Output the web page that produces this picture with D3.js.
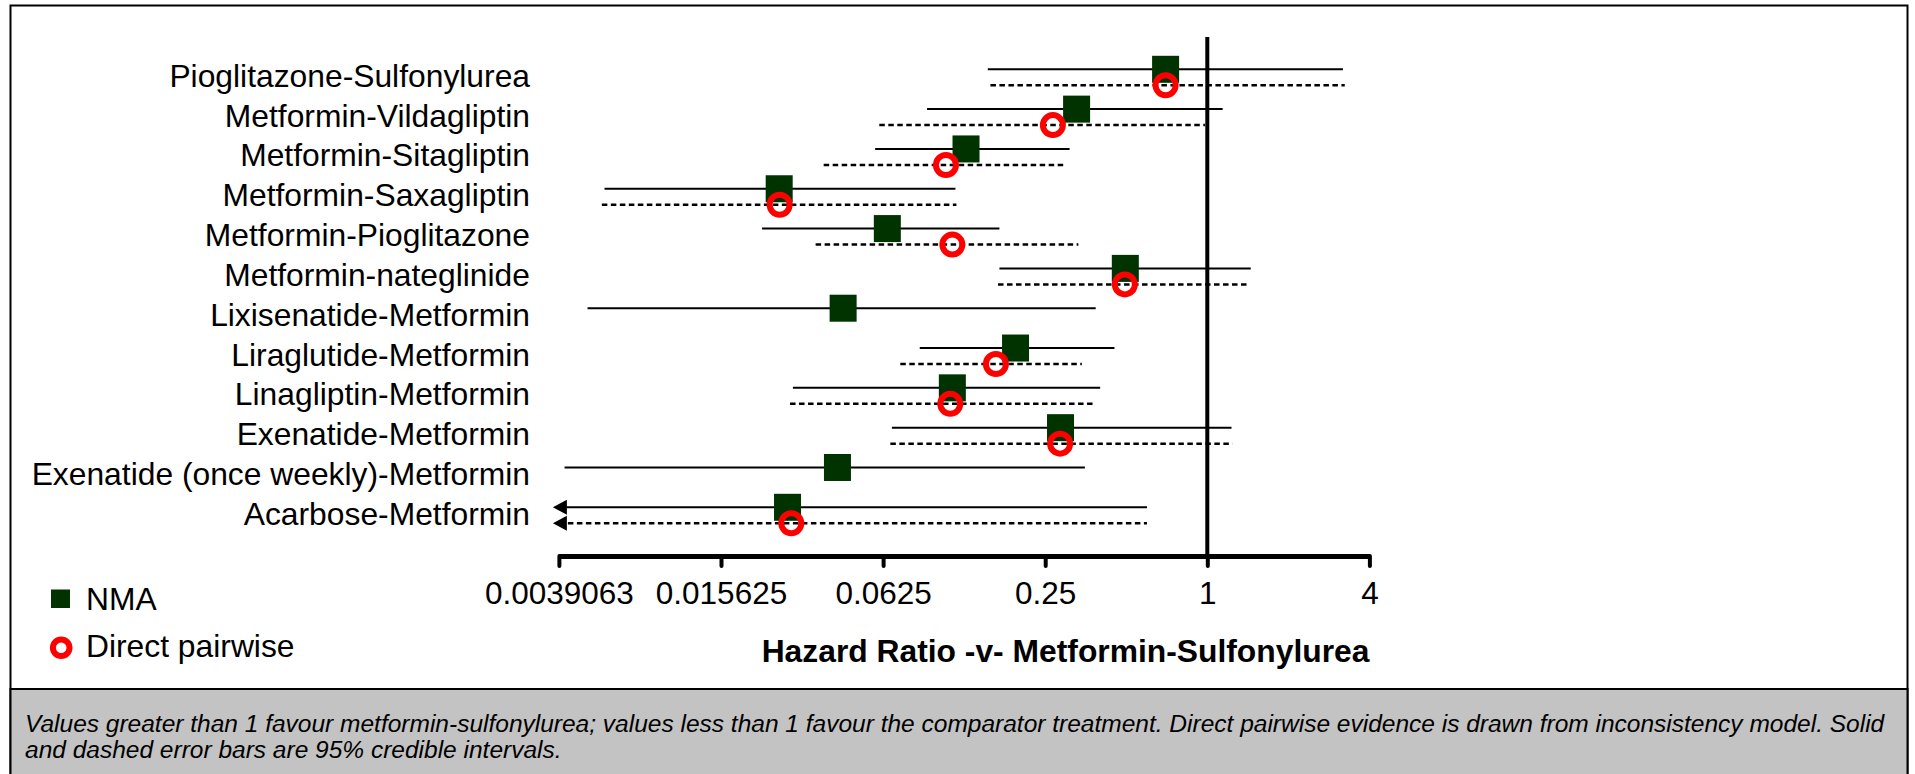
<!DOCTYPE html>
<html>
<head>
<meta charset="utf-8">
<script src="https://cdn.jsdelivr.net/npm/d3@7"></script>
<style>
  body { margin: 0; background: #fff; }
  svg { display: block; font-family: "Liberation Sans", Arial, sans-serif; }
</style>
</head>
<body>
<div id="ForestPlot"></div>
<script>
// comparisons, top to bottom
let categories = [
    "Pioglitazone-Sulfonylurea",
    "Metformin-Vildagliptin",
    "Metformin-Sitagliptin",
    "Metformin-Saxagliptin",
    "Metformin-Pioglitazone",
    "Metformin-nateglinide",
    "Lixisenatide-Metformin",
    "Liraglutide-Metformin",
    "Linagliptin-Metformin",
    "Exenatide-Metformin",
    "Exenatide (once weekly)-Metformin",
    "Acarbose-Metformin"
]

// NMA hazard ratios and 95% CrI (solid bars)
let nmaHR   = [0.70, 0.327, 0.127, 0.0257, 0.0648, 0.496, 0.0444, 0.194, 0.113, 0.285, 0.0423, 0.0276]
let nmaLow  = [0.153, 0.091, 0.0584, 0.00577, 0.0222, 0.169, 0.00499, 0.0855, 0.0289, 0.0674, 0.0041, 0.0031]
let nmaHigh = [3.19, 1.14, 0.308, 0.116, 0.169, 1.45, 0.385, 0.452, 0.400, 1.23, 0.351, 0.597]

// direct pairwise (dashed bars), null = no direct evidence
let directHR   = [0.70, 0.267, 0.107, 0.0258, 0.113, 0.494, null, 0.164, 0.111, 0.284, null, 0.0285]
let directLow  = [0.1565, 0.0605, 0.0376, 0.00564, 0.0351, 0.167, null, 0.0724, 0.0282, 0.0665, null, 0.0031]
let directHigh = [3.24, 0.98, 0.299, 0.117, 0.332, 1.43, null, 0.342, 0.383, 1.24, null, 0.597]

let tickValues = [0.00390625, 0.015625, 0.0625, 0.25, 1, 4]
let tickLabels = ["0.0039063", "0.015625", "0.0625", "0.25", "1", "4"]

let axisTitle = "Hazard Ratio -v- Metformin-Sulfonylurea"
let legendLabels = ["NMA", "Direct pairwise"]
let footnote = [
    "Values greater than 1 favour metformin-sulfonylurea; values less than 1 favour the comparator treatment. Direct pairwise evidence is drawn from inconsistency model. Solid",
    "and dashed error bars are 95% credible intervals."
]

let width = 1915
let height = 774
let axisY = 556
let dashOffset = 16
let green = '#003300'
let red = '#ff0000'
let fontSize = '31.8px'

let svg = d3.select('#ForestPlot').append('svg')
    .attr('width', width).attr('height', height)

// outer frame + grey footnote panel
svg.append('rect')
    .attr('x', 10.5).attr('y', 5.5)
    .attr('width', 1897).attr('height', 800)
    .attr('fill', '#fff').attr('stroke', '#000').attr('stroke-width', 2)
svg.append('rect')
    .attr('x', 10.5).attr('y', 689)
    .attr('width', 1897).attr('height', 120)
    .attr('fill', '#c3c3c3').attr('stroke', '#000').attr('stroke-width', 2)

let xScale = d3.scaleLog().base(2)
    .domain([tickValues[0], tickValues[tickValues.length - 1]])
    .range([558.9, 1369.4])
let yScale = d3.scalePoint()
    .domain(categories)
    .range([69.3, 507.3])

let rows = categories.map((c, i) => ({
    name: c,
    nma: nmaHR[i], nLo: nmaLow[i], nHi: nmaHigh[i],
    dir: directHR[i], dLo: directLow[i], dHi: directHigh[i]
}))
let xMin = xScale.domain()[0]
let clampX = v => xScale(Math.max(v, xMin))

// row labels
svg.append('g').selectAll('text')
    .data(rows)
    .enter()
    .append('text')
    .attr('x', 530)
    .attr('y', d => yScale(d.name) + 17.5)
    .attr('text-anchor', 'end')
    .attr('font-size', fontSize)
    .text(d => d.name)

// solid NMA bars
svg.append('g').selectAll('line')
    .data(rows)
    .enter()
    .append('line')
    .attr('x1', d => clampX(d.nLo))
    .attr('x2', d => xScale(d.nHi))
    .attr('y1', d => yScale(d.name))
    .attr('y2', d => yScale(d.name))
    .attr('stroke', '#000').attr('stroke-width', 2)

// dashed direct bars
let directRows = rows.filter(d => d.dir != null)
svg.append('g').selectAll('line')
    .data(directRows)
    .enter()
    .append('line')
    .attr('x1', d => clampX(d.dLo))
    .attr('x2', d => xScale(d.dHi))
    .attr('y1', d => yScale(d.name) + dashOffset)
    .attr('y2', d => yScale(d.name) + dashOffset)
    .attr('stroke', '#000').attr('stroke-width', 2.5)
    .attr('stroke-dasharray', '5.5,3.5')

// arrowheads where the interval runs off the left of the axis
let arrows = []
rows.forEach(d => {
    if (d.nLo < xMin) arrows.push(yScale(d.name))
    if (d.dLo != null && d.dLo < xMin) arrows.push(yScale(d.name) + dashOffset)
})
svg.append('g').selectAll('path')
    .data(arrows)
    .enter()
    .append('path')
    .attr('d', y => {
        let tip = xScale(xMin) - 6
        return 'M' + tip + ',' + y + 'L' + (tip + 14) + ',' + (y - 7.5) + 'L' + (tip + 14) + ',' + (y + 7.5) + 'Z'
    })
    .attr('fill', '#000')

// line of no effect
svg.append('line')
    .attr('x1', xScale(1)).attr('x2', xScale(1))
    .attr('y1', 37).attr('y2', axisY)
    .attr('stroke', '#000').attr('stroke-width', 4)

// x axis
let xAxis = d3.axisBottom(xScale)
    .tickValues(tickValues)
    .tickFormat((d, i) => tickLabels[i])
    .tickSize(10)
    .tickSizeOuter(0)
let gx = svg.append('g')
    .attr('transform', 'translate(0,' + axisY + ')')
    .call(xAxis)
gx.select('.domain').attr('stroke', '#000').attr('stroke-width', 5)
gx.selectAll('.tick line').attr('stroke', '#000').attr('stroke-width', 4).attr('stroke-linecap', 'round')
gx.selectAll('.tick text')
    .attr('y', 48).attr('dy', 0)
    .attr('fill', '#000')
    .attr('font-size', '31.5px')
    .attr('font-family', '"Liberation Sans", Arial, sans-serif')

svg.append('text')
    .attr('x', xScale(tickValues[tickValues.length - 1]))
    .attr('y', 662)
    .attr('text-anchor', 'end')
    .attr('font-size', fontSize)
    .attr('font-weight', 'bold')
    .text(axisTitle)

// NMA squares
svg.append('g').selectAll('rect')
    .data(rows)
    .enter()
    .append('rect')
    .attr('x', d => xScale(d.nma) - 13.5)
    .attr('y', d => yScale(d.name) - 13.5)
    .attr('width', 27).attr('height', 27)
    .attr('fill', green)

// direct pairwise circles
svg.append('g').selectAll('circle')
    .data(directRows)
    .enter()
    .append('circle')
    .attr('cx', d => xScale(d.dir))
    .attr('cy', d => yScale(d.name) + dashOffset)
    .attr('r', 10)
    .attr('fill', 'none')
    .attr('stroke', red).attr('stroke-width', 6)

// legend
svg.append('rect')
    .attr('x', 51).attr('y', 589.5)
    .attr('width', 19).attr('height', 18.5)
    .attr('fill', green)
svg.append('circle')
    .attr('cx', 61.2).attr('cy', 647.7).attr('r', 8.3)
    .attr('fill', 'none').attr('stroke', red).attr('stroke-width', 6)
svg.append('g').selectAll('text')
    .data(legendLabels)
    .enter()
    .append('text')
    .attr('x', 86)
    .attr('y', (d, i) => 609.5 + i * 47.5)
    .attr('font-size', fontSize)
    .text(d => d)

// footnote
svg.append('g').selectAll('text')
    .data(footnote)
    .enter()
    .append('text')
    .attr('x', 25)
    .attr('y', (d, i) => 732 + i * 25.5)
    .attr('font-size', '24.5px')
    .attr('font-style', 'italic')
    .text(d => d)
</script>
</body>
</html>
